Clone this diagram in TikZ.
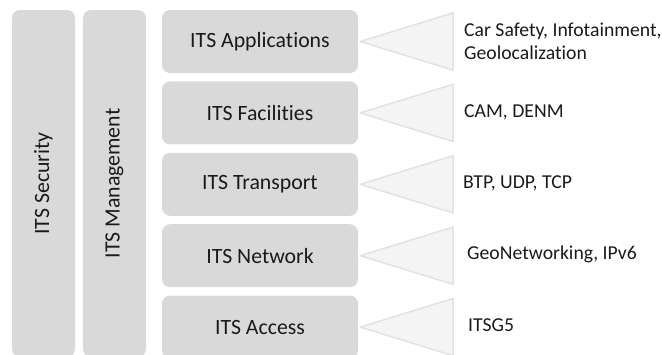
\documentclass[tikz,border=0pt]{standalone}
\usepackage{fontspec}
\setmainfont[Ligatures=NoCommon]{Carlito}
\usetikzlibrary{calc,positioning}

\definecolor{layergray}{HTML}{D9D9D9}
\definecolor{wedgegray}{HTML}{F4F4F4}
\definecolor{wedgeedge}{HTML}{E2E2E2}
\definecolor{textgray}{HTML}{1A1A1A}

\tikzset{
  layer/.style={rectangle, rounded corners=8pt, fill=layergray, minimum width=196pt, minimum height=63pt, inner sep=0pt, text=textgray, font=\fontsize{21.8}{26}\selectfont},
  pillar/.style={rectangle, rounded corners=8pt, fill=layergray, minimum width=347pt, minimum height=63pt, inner sep=0pt, rotate=90, text=textgray, font=\fontsize{21.8}{26}\selectfont},
  proto/.style={anchor=west, align=left, inner sep=0pt, text=textgray, font=\fontsize{19.7}{23.5}\selectfont},
  wedge/.style={fill=wedgegray, draw=wedgeedge, line width=1.5pt, line join=round}
}

\begin{document}
\begin{tikzpicture}[x=1pt, y=-1pt]
		\useasboundingbox (0,0) rectangle (662,354);

		\node[pillar] (security) at (43.5,183.5) {ITS Security};
		\node[pillar] (management) at (114.5,183.5) {ITS Management};

		\node[layer] (app) at (260,41.5) {ITS Applications};
		\node[layer, below = 8pt of app] (fac) {ITS Facilities};
		\node[layer, below = 8pt of fac] (trans) {ITS Transport};
		\node[layer, below = 8pt of trans] (net) {ITS Network};
		\node[layer, below = 8pt of net] (acc) {ITS Access};

		\node[proto] (appx) at (464,41.5) {Car Safety, Infotainment,\\Geolocalization};
		\node[proto] (facx) at (464,112.5) {CAM, DENM};
		\node[proto] (transx) at (463,183.5) {BTP, UDP, TCP};
		\node[proto] (netx) at (467,254.5) {GeoNetworking, IPv6};
		\node[proto] (accx) at (468,325.5) {ITSG5};

		\foreach \l/\t in {app/appx, fac/facx, trans/transx, net/netx, acc/accx}
			\draw[wedge] ($(\l.east)+(2,0)$) -- ($(\l.north east)+(95,3)$) -- ($(\l.south east)+(95,-3)$) -- cycle;
	\end{tikzpicture}
\end{document}
